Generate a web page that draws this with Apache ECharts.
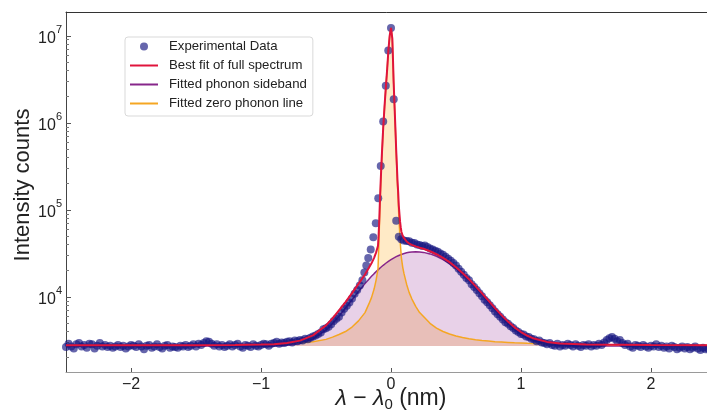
<!DOCTYPE html>
<html>
<head>
<meta charset="utf-8">
<script src="https://cdn.jsdelivr.net/npm/echarts@6/dist/echarts.min.js"></script>
<style>
  html, body { margin: 0; padding: 0; background: #fff; }
  #chart { width: 707px; height: 412px; }
</style>
</head>
<body>
<div id="chart"></div>
<script>
// measured points, [lambda - lambda0 (nm), counts]
const expData = [
  [-2.50,2650],[-2.48,2900],[-2.46,2700],[-2.44,2550],[-2.42,2850],[-2.40,2950],[-2.38,2700],[-2.36,2800],[-2.34,2600],[-2.32,2900],
  [-2.30,2850],[-2.28,2550],[-2.26,2750],[-2.24,2950],[-2.22,2700],[-2.20,2800],[-2.18,2650],[-2.16,2750],[-2.14,2600],[-2.12,2700],
  [-2.10,2800],[-2.08,2650],[-2.06,2750],[-2.04,2550],[-2.02,2700],[-2.00,2800],[-1.98,2750],[-1.96,2650],[-1.94,2850],[-1.92,2700],
  [-1.90,2500],[-1.88,2750],[-1.86,2800],[-1.84,2600],[-1.82,2700],[-1.80,2850],[-1.78,2650],[-1.76,2550],[-1.74,2750],[-1.72,2800],
  [-1.70,2600],[-1.68,2700],[-1.66,2650],[-1.64,2600],[-1.62,2750],[-1.60,2700],[-1.58,2800],[-1.56,2650],[-1.54,2750],[-1.52,2850],
  [-1.50,2700],[-1.48,2900],[-1.46,2800],[-1.44,2950],[-1.42,3100],[-1.40,3050],[-1.38,2900],[-1.36,2750],[-1.34,2850],[-1.32,2700],
  [-1.30,2800],[-1.28,2650],[-1.26,2750],[-1.24,2850],[-1.22,2700],[-1.20,2800],[-1.18,2900],[-1.16,2700],[-1.14,2600],[-1.12,2800],
  [-1.10,2750],[-1.08,2650],[-1.06,2850],[-1.04,2750],[-1.02,2700],[-1.00,2800],[-0.98,2900],[-0.96,2850],[-0.94,2750],[-0.92,2900],
  [-0.90,2950],[-0.88,3050],[-0.86,2900],[-0.84,3000],[-0.82,2950],[-0.80,3050],[-0.78,3100],[-0.76,3000],[-0.74,3150],[-0.72,3100],
  [-0.70,3200],[-0.68,3150],[-0.66,3300],[-0.64,3250],[-0.62,3400],
  [-0.60,3500],[-0.58,3600],[-0.56,3750],[-0.54,3900],[-0.52,4250],[-0.50,4350],[-0.48,4550],[-0.46,4850],[-0.44,5300],[-0.42,5600],
  [-0.40,5900],[-0.38,6600],[-0.36,7300],[-0.34,7900],[-0.32,8600],[-0.30,9600],[-0.28,10900],[-0.26,12000],[-0.24,13500],[-0.22,15500],
  [-0.205,19000],[-0.19,23000],[-0.175,28000],[-0.156,35000],[-0.136,48500],[-0.117,70000],[-0.098,136000],[-0.079,320000],
  [-0.060,1035000],[-0.040,2660000],[-0.021,6780000],[0.000,12300000],[0.021,1870000],[0.040,75000],[0.060,49000],[0.079,46000],[0.098,44500],
  [0.12,44000],[0.14,43500],[0.16,42000],[0.18,41500],[0.20,40000],[0.22,39500],[0.24,38500],[0.26,39000],[0.28,37500],[0.30,36000],
  [0.32,35000],[0.34,34000],[0.36,33000],[0.38,31500],[0.40,30500],[0.42,29000],[0.44,27500],[0.46,26000],[0.48,24500],[0.50,23000],
  [0.52,21000],[0.54,19500],[0.56,18000],[0.58,16500],[0.60,15500],[0.62,14000],[0.64,13000],[0.66,12000],[0.68,11000],[0.70,10200],
  [0.72,9300],[0.74,8700],[0.76,8000],[0.78,7400],[0.80,6800],[0.82,6300],[0.84,5900],[0.86,5500],[0.88,5100],[0.90,4900],
  [0.92,4600],[0.94,4400],[0.96,4100],[0.98,3950],[1.00,3750],[1.02,3700],[1.04,3500],[1.06,3450],[1.08,3300],[1.10,3250],
  [1.12,3100],[1.14,3150],[1.16,3000],[1.18,2950],[1.20,2850],[1.22,2950],[1.24,2800],[1.26,2750],[1.28,2900],[1.30,2700],
  [1.32,2800],[1.34,2750],[1.36,2900],[1.38,2800],[1.40,2700],[1.42,2850],[1.44,2750],[1.46,2650],[1.48,2800],[1.50,2750],
  [1.52,2850],[1.54,2700],[1.56,2800],[1.58,2750],[1.60,2900],[1.62,2800],[1.64,3000],[1.66,3200],[1.68,3350],[1.70,3450],
  [1.72,3300],[1.74,3100],[1.76,3200],[1.78,2950],[1.80,2800],[1.82,2900],[1.84,2700],[1.86,2600],[1.88,2800],[1.90,2750],
  [1.92,2650],[1.94,2800],[1.96,2700],[1.98,2600],[2.00,2750],[2.02,2700],[2.04,2850],[2.06,2650],[2.08,2750],[2.10,2600],
  [2.12,2700],[2.14,2550],[2.16,2750],[2.18,2650],[2.20,2500],[2.22,2600],[2.24,2700],[2.26,2550],[2.28,2650],[2.30,2500],
  [2.32,2600],[2.34,2700],[2.36,2550],[2.38,2450],[2.40,2600],[2.42,2500],[2.44,2550]
];

// x positions shared by the three fitted curves
const fitX = [
  -2.5, -2.0, -1.5, -1.2, -1.0, -0.9, -0.8, -0.7, -0.6, -0.5,
  -0.45, -0.4, -0.35, -0.3, -0.25, -0.2, -0.17, -0.15, -0.13, -0.115,
  -0.1, -0.095, -0.09, -0.085, -0.08, -0.075, -0.07, -0.065, -0.06, -0.05,
  -0.04, -0.03, -0.02, -0.01, 0, 0.005, 0.01, 0.015, 0.02, 0.025,
  0.03, 0.035, 0.04, 0.045, 0.05, 0.055, 0.06, 0.065, 0.07, 0.075,
  0.08, 0.09, 0.1, 0.12, 0.14, 0.16, 0.19, 0.22, 0.25, 0.3,
  0.35, 0.4, 0.45, 0.5, 0.55, 0.6, 0.65, 0.7, 0.75, 0.8,
  0.85, 0.9, 0.95, 1.0, 1.05, 1.1, 1.2, 1.3, 1.5, 2.0, 2.5
];

const fullFit = [
  2780, 2785, 2790, 2800, 2834, 2865, 2948, 3144, 3616, 4706,
  5674, 6991, 8718, 11054, 14114, 18084, 21559, 24296, 28071, 32241,
  38719, 52050, 78377, 128707, 199034, 299362, 439689, 620016, 870340, 1520986,
  2521622, 4022252, 6822870, 10023476, 12324070, 12124358, 9324643, 5524925, 3025200, 1925470,
  1225734, 775997, 486249, 326497, 216740, 161976, 112203, 89428, 72643, 62849,
  56049, 50427, 47273, 43367, 41021, 39627, 38100, 36758, 35687, 33422,
  30902, 28089, 25056, 21927, 18848, 15945, 13298, 10990, 9037, 7432,
  6172, 5200, 4470, 3947, 3576, 3322, 3040, 2920, 2844, 2800, 2780
];

const sideband = [
  2720, 2720, 2720, 2720, 2724, 2735, 2778, 2914, 3286, 4176,
  4944, 6011, 7438, 9274, 11534, 14204, 15979, 17216, 18491, 19461,
  20439, 20770, 21097, 21427, 21754, 22082, 22409, 22736, 23060, 23706,
  24342, 24972, 25590, 26196, 26790, 27078, 27363, 27645, 27920, 28190,
  28454, 28717, 28969, 29217, 29460, 29696, 29923, 30148, 30363, 30569,
  30769, 31147, 31493, 32087, 32541, 32847, 33020, 32878, 32457, 31172,
  29242, 26809, 24036, 21097, 18158, 15355, 12798, 10550, 8647, 7092,
  5862, 4920, 4220, 3717, 3366, 3127, 2870, 2770, 2724, 2720, 2720
];

const zeroPhonon = [
  2780, 2785, 2790, 2800, 2830, 2850, 2890, 2950, 3050, 3250,
  3450, 3700, 4000, 4500, 5300, 6600, 8300, 9800, 12300, 15500,
  21000, 34000, 60000, 110000, 180000, 280000, 420000, 600000, 850000, 1500000,
  2500000, 4000000, 6800000, 10000000, 12300000, 12100000, 9300000, 5500000, 3000000, 1900000,
  1200000, 750000, 460000, 300000, 190000, 135000, 85000, 62000, 45000, 35000,
  28000, 22000, 18500, 14000, 11200, 9500, 7800, 6600, 5950, 4970,
  4380, 4000, 3740, 3550, 3410, 3310, 3220, 3160, 3110, 3060,
  3030, 3000, 2970, 2950, 2930, 2915, 2890, 2870, 2840, 2800, 2780
];

const baseLevel = 2720;
const xTicks = [-2, -1, 0, 1, 2];
const majorTicks = [1e4, 1e5, 1e6, 1e7];
const minorTicks = [
  2000, 3000, 4000, 5000, 6000, 7000, 8000, 9000,
  20000, 30000, 40000, 50000, 60000, 70000, 80000, 90000,
  200000, 300000, 400000, 500000, 600000, 700000, 800000, 900000,
  2000000, 3000000, 4000000, 5000000, 6000000, 7000000, 8000000, 9000000
];

const FONT = 'Liberation Sans, Arial, sans-serif';
const yMin = 1371, yMax = 1.875e7;
const LINE_ICON = 'path://M0,0L28,0L28,2L0,2Z';
const ORANGE = '#f5a623';
const PURPLE = '#87268a';
const RED = '#e0143c';

function pairs(ys) {
  return fitX.map((x, i) => [x, ys[i]]);
}

let myChart = echarts.init(document.getElementById('chart'));

myChart.setOption({
  animation: false,
  backgroundColor: '#fff',
  grid: { left: 66, right: -9, top: 12, bottom: 40, outerBoundsMode: 'none', containLabel: false },
  legend: {
    orient: 'vertical',
    left: 125,
    top: 37,
    itemWidth: 28,
    itemHeight: 8,
    itemGap: 4,
    padding: [2, 6, 5, 5],
    borderColor: '#d9d9d9',
    borderWidth: 1,
    borderRadius: 3,
    backgroundColor: 'rgba(255,255,255,0.85)',
    textStyle: { fontFamily: FONT, fontSize: 13.2, color: '#222', lineHeight: 15, padding: [0, 0, 0, 6] },
    data: [
      { name: 'Experimental Data', icon: 'circle' },
      { name: 'Best fit of full spectrum', icon: LINE_ICON },
      { name: 'Fitted phonon sideband', icon: LINE_ICON },
      { name: 'Fitted zero phonon line', icon: LINE_ICON }
    ]
  },
  xAxis: [
    {
      type: 'value',
      min: -2.5,
      max: 2.5,
      position: 'bottom',
      axisLine: { onZero: false, lineStyle: { color: '#9a9a9a', width: 1 } },
      axisTick: { inside: true, length: 4, customValues: xTicks, lineStyle: { color: '#555' } },
      axisLabel: {
        customValues: xTicks,
        margin: 5,
        fontFamily: FONT,
        fontSize: 16,
        color: '#222',
        formatter: (v) => (v < 0 ? '\u2212' + Math.abs(v) : String(v))
      },
      splitLine: { show: false },
      name: '{i|λ} − {i|λ}{s|0} (nm)',
      nameLocation: 'middle',
      nameMoveOverlap: false,
      nameGap: 14,
      nameTextStyle: {
        fontFamily: FONT,
        fontSize: 23,
        color: '#222',
        rich: {
          i: { fontFamily: FONT, fontSize: 23, fontStyle: 'italic', color: '#222' },
          s: { fontFamily: FONT, fontSize: 15, color: '#222', padding: [11, 0, 0, 0] }
        }
      }
    },
    {
      type: 'value',
      min: -2.5,
      max: 2.5,
      position: 'top',
      axisLine: { onZero: false, lineStyle: { color: '#333', width: 1 } },
      axisTick: { show: false },
      axisLabel: { show: false },
      splitLine: { show: false }
    }
  ],
  yAxis: [
    {
      type: 'log',
      logBase: 10,
      min: yMin,
      max: yMax,
      position: 'left',
      axisLine: { show: true, onZero: false, lineStyle: { color: '#444', width: 1 } },
      axisTick: { inside: true, length: 5, customValues: majorTicks, lineStyle: { color: '#555' } },
      axisLabel: {
        customValues: majorTicks,
        margin: 4,
        formatter: (v) => '{b|10}{e|' + Math.round(Math.log10(v)) + '}',
        rich: {
          b: { fontFamily: FONT, fontSize: 16, color: '#222', lineHeight: 22, verticalAlign: 'bottom' },
          e: { fontFamily: FONT, fontSize: 11, color: '#222', lineHeight: 11, verticalAlign: 'top' }
        }
      },
      splitLine: { show: false },
      name: 'Intensity counts',
      nameLocation: 'middle',
      nameMoveOverlap: false,
      nameGap: 32,
      nameTextStyle: { fontFamily: FONT, fontSize: 22, color: '#222', padding: [0, 0, 0, 14] }
    },
    {
      type: 'log',
      logBase: 10,
      min: yMin,
      max: yMax,
      position: 'left',
      axisLine: { show: false, onZero: false },
      axisTick: { inside: true, length: 3, customValues: minorTicks, lineStyle: { color: '#777' } },
      axisLabel: { show: false },
      splitLine: { show: false }
    }
  ],
  series: [
    {
      // zero phonon line fill, drawn first so the sideband fill lies over it
      name: 'Fitted zero phonon line',
      type: 'line',
      data: pairs(zeroPhonon),
      symbol: 'none',
      z: 1,
      lineStyle: { width: 0, opacity: 0 },
      itemStyle: { color: ORANGE },
      areaStyle: { color: 'rgba(255,160,0,0.32)', origin: baseLevel }
    },
    {
      name: 'Fitted phonon sideband',
      type: 'line',
      data: pairs(sideband),
      symbol: 'none',
      z: 2,
      lineStyle: { color: PURPLE, width: 1.5 },
      itemStyle: { color: PURPLE },
      areaStyle: { color: 'rgba(128,0,128,0.26)', origin: baseLevel }
    },
    {
      name: 'Fitted zero phonon line',
      type: 'line',
      data: pairs(zeroPhonon),
      symbol: 'none',
      z: 2,
      lineStyle: { color: ORANGE, width: 1.5 },
      itemStyle: { color: ORANGE }
    },
    {
      name: 'Experimental Data',
      type: 'scatter',
      data: expData,
      symbol: 'circle',
      symbolSize: 8,
      z: 3,
      itemStyle: { color: 'rgba(22,22,128,0.82)' }
    },
    {
      name: 'Best fit of full spectrum',
      type: 'line',
      data: pairs(fullFit),
      symbol: 'none',
      z: 4,
      lineStyle: { color: RED, width: 2 },
      itemStyle: { color: RED }
    }
  ]
});

window.addEventListener('resize', function () {
  myChart.resize();
});
</script>
</body>
</html>
